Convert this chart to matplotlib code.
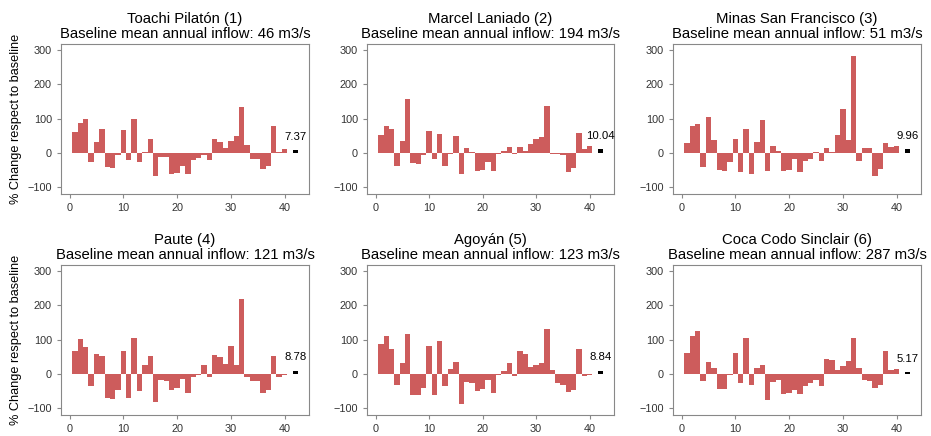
import matplotlib
matplotlib.use("Agg")
import matplotlib.pyplot as plt
import numpy as np

plt.rcParams['font.family'] = ['Liberation Sans', 'DejaVu Sans']

names = ["Toachi Pilatón (1)", "Marcel Laniado (2)", "Minas San Francisco (3)",
         "Paute (4)", "Agoyán (5)", "Coca Codo Sinclair (6)"]
baseline_inflow = [46, 194, 51, 121, 123, 287]
mean_change = [7.37, 10.04, 9.96, 8.78, 8.84, 5.17]
years = list(range(1, 41))

change_1 = [62, 88, 98, -27, 33, 71, -41, -45, -5, 68, -21, 100, -27, 4, 42, -68, -13, -13, -62, -59,
            -39, -62, -21, -15, -5, -21, 42, 33, 13, 36, 48, 135, 24, -18, -18, -48, -39, 80, 2, 10]
change_2 = [53, 80, 71, -39, 36, 158, -30, -33, -5, 65, -18, 56, -39, -2, 48, -62, 13, 4, -52, -50,
            -27, -54, -2, 7, 16, -2, 16, 7, 27, 42, 45, 138, -2, -2, -5, -56, -45, 59, 10, 21]
change_3 = [30, 80, 85, -42, 106, 39, -49, -53, -27, 42, -56, 71, -62, 33, 97, -53, 21, 7, -53, -50,
            -18, -56, -24, -18, 4, -24, 13, 4, 53, 129, 39, 283, -24, 13, 13, -68, -48, 30, 16, 21]
change_4 = [68, 102, 79, -35, 58, 53, -69, -72, -46, 68, -69, 105, -49, 26, 53, -81, -17, -22, -46, -40,
            -14, -55, -9, -3, 26, -9, 55, 50, 29, 82, 26, 219, -9, -22, -22, -57, -46, 53, -9, -3]
change_5 = [88, 111, 73, -32, 32, 117, -63, -63, -40, 82, -63, 96, -34, 15, 35, -87, -25, -28, -49, -43,
            -17, -57, -3, 9, 32, -5, 68, 58, 20, 26, 32, 131, 10, -28, -31, -52, -46, 73, -5, -2]
change_6 = [61, 111, 125, -22, 35, 17, -43, -43, -2, 61, -28, 105, -31, 17, 26, -75, -25, -19, -60, -57,
            -46, -60, -34, -28, -17, -34, 44, 41, 12, 23, 38, 105, 17, -19, -22, -40, -31, 68, 10, 15]
changes = [change_1, change_2, change_3, change_4, change_5, change_6]

fig = plt.figure(figsize=(9.31, 4.36), dpi=100)
W, H = 931, 436
lefts = [61, 367, 673]
rights = [309, 614, 921]
tops = [44, 265]
bottoms = [194, 415]

for i in range(6):
    r, c = divmod(i, 3)
    ax = fig.add_axes([lefts[c] / W, 1 - bottoms[r] / H,
                       (rights[c] - lefts[c]) / W, (bottoms[r] - tops[r]) / H])
    ax.bar(years, changes[i], width=1.0, color='#CD5C5C')
    ax.bar([42], [mean_change[i]], width=0.9, color='black')
    ax.text(42, mean_change[i] + 25, f"{mean_change[i]:.2f}", ha='center', va='bottom', fontsize=8.2)
    ax.set_ylim(-120, 318)
    ax.set_yticks([-100, 0, 100, 200, 300])
    ax.set_xticks([0, 10, 20, 30, 40])
    ax.set_title(f"{names[i]}\nBaseline mean annual inflow: {baseline_inflow[i]} m3/s",
                 fontsize=10.7, pad=4, linespacing=1.15)
    for s in ax.spines.values():
        s.set_color('#888888')
    ax.tick_params(colors='#333333', labelsize=7.8, length=3, color='#888888')
    if c == 0:
        ax.set_ylabel("% Change respect to baseline", fontsize=9.2)

fig.savefig("out.png", dpi=100)
